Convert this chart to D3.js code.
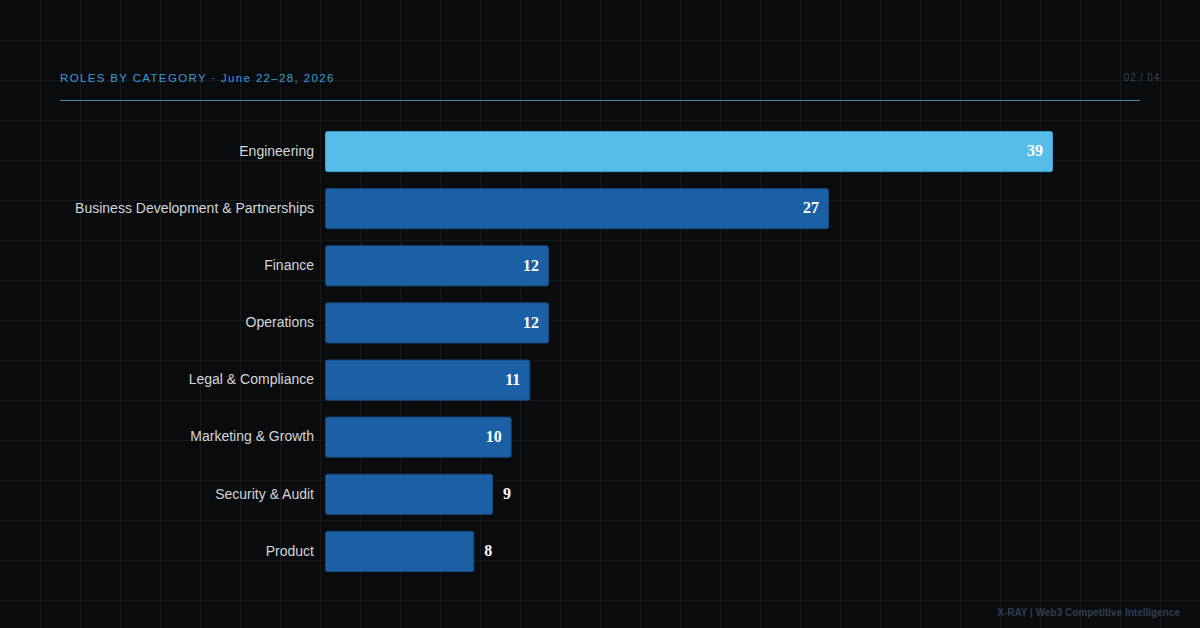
<!DOCTYPE html>
<html>
<head>
<meta charset="utf-8">
<script src="https://cdn.jsdelivr.net/npm/d3@7"></script>
<style>
  html, body { margin: 0; padding: 0; background: #0a0b0d; }
  svg { display: block; }
</style>
</head>
<body>
<div id="chart"></div>
<script>
// Data
const categories = [
  "Engineering",
  "Business Development & Partnerships",
  "Finance",
  "Operations",
  "Legal & Compliance",
  "Marketing & Growth",
  "Security & Audit",
  "Product"
];
const roleCounts = [39, 27, 12, 12, 11, 10, 9, 8];
const titleText = "ROLES BY CATEGORY · June 22–28, 2026";
const pageText = "02 / 04";
const footerText = "X-RAY | Web3 Competitive Intelligence";

const width = 1200;
const height = 628;

const svg = d3.select("#chart")
  .append("svg")
  .attr("width", width)
  .attr("height", height);

svg.append("rect")
  .attr("width", width)
  .attr("height", height)
  .attr("fill", "#0a0b0d");

// Background grid
const grid = svg.append("g").attr("class", "grid");
grid.selectAll(".gx")
  .data(d3.range(40, width, 40))
  .enter()
  .append("line")
  .attr("x1", d => d + 0.5).attr("x2", d => d + 0.5)
  .attr("y1", 0).attr("y2", height)
  .attr("stroke", "#16191d")
  .attr("stroke-width", 1);
grid.selectAll(".gy")
  .data(d3.range(40, height, 40))
  .enter()
  .append("line")
  .attr("y1", d => d + 0.5).attr("y2", d => d + 0.5)
  .attr("x1", 0).attr("x2", width)
  .attr("stroke", "#16191d")
  .attr("stroke-width", 1);

// Header
svg.append("text")
  .attr("x", 60)
  .attr("y", 82)
  .style("font-family", "'Liberation Sans', Arial, sans-serif")
  .style("font-size", "11.5px")
  .style("letter-spacing", "1.35px")
  .style("fill", "#3d9bd8")
  .text(titleText);

svg.append("text")
  .attr("x", 1160)
  .attr("y", 81)
  .attr("text-anchor", "end")
  .style("font-family", "'Liberation Sans', Arial, sans-serif")
  .style("font-size", "10px")
  .style("letter-spacing", "0.8px")
  .style("fill", "#34465c")
  .text(pageText);

svg.append("line")
  .attr("x1", 60).attr("x2", 1140)
  .attr("y1", 100.5).attr("y2", 100.5)
  .attr("stroke", "#3a8dbd")
  .attr("stroke-width", 1);

// Scales
const x = d3.scaleLinear()
  .domain([0, d3.max(roleCounts)])
  .range([325, 1053]);

const y = d3.scaleBand()
  .domain(categories)
  .range([115, 588])
  .paddingInner(0.28)
  .paddingOuter(0.28);

const rows = categories.map((c, i) => ({ category: c, value: roleCounts[i], index: i }));

// Bars
svg.append("g")
  .selectAll("rect")
  .data(rows)
  .enter()
  .append("rect")
  .attr("x", x(0) + 0.5)
  .attr("y", d => y(d.category) + 0.5)
  .attr("width", d => x(d.value) - x(0) - 1)
  .attr("height", y.bandwidth() - 1)
  .attr("rx", 2)
  .attr("fill", d => d.index === 0 ? "#56bdea" : "#1b5fa5")
  .attr("stroke", d => d.index === 0 ? "#3f9fcf" : "#17497e")
  .attr("stroke-width", 1);

// Category labels
svg.append("g")
  .selectAll("text")
  .data(rows)
  .enter()
  .append("text")
  .attr("x", 314)
  .attr("y", d => y(d.category) + y.bandwidth() / 2)
  .attr("dy", "0.3em")
  .attr("text-anchor", "end")
  .style("font-family", "'Liberation Sans', Arial, sans-serif")
  .style("font-size", "14px")
  .style("fill", "#d4d6d9")
  .text(d => d.category);

// Value labels
svg.append("g")
  .selectAll("text")
  .data(rows)
  .enter()
  .append("text")
  .attr("x", d => d.value >= 10 ? x(d.value) - 10 : x(d.value) + 10)
  .attr("y", d => y(d.category) + y.bandwidth() / 2)
  .attr("dy", "0.3em")
  .attr("text-anchor", d => d.value >= 10 ? "end" : "start")
  .style("font-family", "'Liberation Serif', 'Times New Roman', serif")
  .style("font-weight", "bold")
  .style("font-size", "16px")
  .style("fill", "#ffffff")
  .text(d => d.value);

// Footer
svg.append("text")
  .attr("x", 1180)
  .attr("y", 616)
  .attr("text-anchor", "end")
  .style("font-family", "'Liberation Sans', Arial, sans-serif")
  .style("font-size", "10px")
  .style("font-weight", "bold")
  .style("fill", "#2e3f55")
  .text(footerText);
</script>
</body>
</html>
